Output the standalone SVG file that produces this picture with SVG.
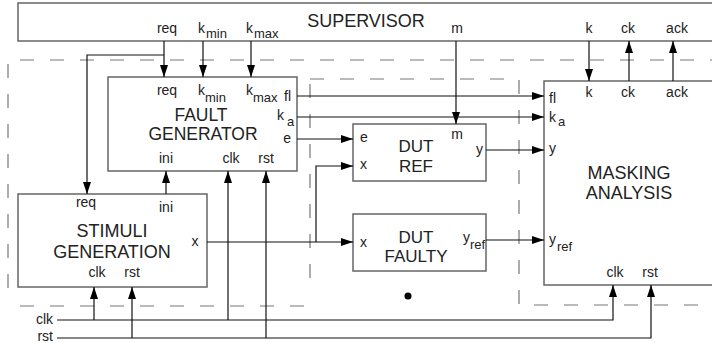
<svg xmlns="http://www.w3.org/2000/svg" width="712" height="343" viewBox="0 0 712 343">
<defs>
<marker id="ah" markerUnits="userSpaceOnUse" markerWidth="12" markerHeight="8" refX="12" refY="4" orient="auto"><path d="M0,0 L12,4 L0,8 z" fill="#000"/></marker>
</defs>
<style>
.box{fill:#fff;stroke:#666;stroke-width:1.5}
.w{fill:none;stroke:#111;stroke-width:1.2}
.a{marker-end:url(#ah)}
.d{fill:none;stroke:#777;stroke-width:1.2;stroke-dasharray:14 16}
text{font-family:"Liberation Sans",Arial,sans-serif;fill:#222}
.t{font-size:18px;text-anchor:middle}
.l{font-size:14px}
.s{font-size:13px}
.m{text-anchor:middle}
.e{text-anchor:end}
</style>
<rect width="712" height="343" fill="#fff"/>
<g id="regions">
<path class="d" d="M20,60 H712"/>
<path class="d" d="M8,64 V304"/>
<path class="d" d="M20,306 H312"/>
<path class="d" d="M310,79 H508"/>
<path class="d" d="M310,84 V292"/>
<path class="d" d="M519,80 V305 H712"/>
</g>
<g id="supervisor">
<rect class="box" x="18" y="3" width="700" height="38"/>
<text class="t" x="366" y="27">SUPERVISOR</text>
<text class="l m" x="167" y="33">req</text>
<text class="l" x="198" y="33">k</text><text class="s" x="206" y="38">min</text>
<text class="l" x="246" y="33">k</text><text class="s" x="254" y="38">max</text>
<text class="l m" x="457" y="33">m</text>
<text class="l m" x="589" y="33">k</text>
<text class="l m" x="628" y="33">ck</text>
<text class="l m" x="677" y="33">ack</text>
</g>
<g id="fault-generator">
<rect class="box" x="108" y="77" width="189" height="94"/>
<text class="t" x="201" y="121" style="font-size:17.5px">FAULT</text>
<text class="t" x="203" y="140" style="font-size:17.5px">GENERATOR</text>
<text class="l m" x="167" y="95">req</text>
<text class="l" x="198" y="95">k</text><text class="s" x="205" y="102">min</text>
<text class="l" x="246" y="95">k</text><text class="s" x="253" y="102">max</text>
<text class="l e" x="291" y="101">fl</text>
<text class="l" x="277" y="120">k</text><text class="s" x="287" y="126">a</text>
<text class="l e" x="291" y="143">e</text>
<text class="l m" x="166" y="163">ini</text>
<text class="l m" x="231" y="163">clk</text>
<text class="l m" x="266" y="163">rst</text>
</g>
<g id="stimuli-generation">
<rect class="box" x="18" y="194" width="189" height="93"/>
<text class="t" x="112" y="237">STIMULI</text>
<text class="t" x="112" y="258">GENERATION</text>
<text class="l m" x="86" y="207">req</text>
<text class="l m" x="166" y="212">ini</text>
<text class="l m" x="195" y="246">x</text>
<text class="l m" x="97" y="277">clk</text>
<text class="l m" x="132" y="277">rst</text>
</g>
<g id="dut-ref">
<rect class="box" x="353" y="124" width="133" height="57"/>
<text class="t" x="416" y="152" style="font-size:17px">DUT</text>
<text class="t" x="416" y="172" style="font-size:17px">REF</text>
<text class="l" x="360" y="142">e</text>
<text class="l" x="360" y="169">x</text>
<text class="l m" x="457" y="139">m</text>
<text class="l e" x="483" y="154">y</text>
</g>
<g id="dut-faulty">
<rect class="box" x="353" y="214" width="133" height="57"/>
<text class="t" x="416" y="243" style="font-size:17px">DUT</text>
<text class="t" x="416" y="262" style="font-size:17px">FAULTY</text>
<text class="l" x="360" y="247">x</text>
<text class="l" x="463" y="242">y</text><text class="s" x="470" y="249">ref</text>
</g>
<g id="masking-analysis">
<rect class="box" x="544" y="81" width="180" height="204"/>
<text class="t" x="629" y="179">MASKING</text>
<text class="t" x="629" y="199">ANALYSIS</text>
<text class="l m" x="589" y="97">k</text>
<text class="l m" x="628" y="97">ck</text>
<text class="l m" x="677" y="97">ack</text>
<text class="l" x="549" y="103">fl</text>
<text class="l" x="549" y="122">k</text><text class="s" x="558" y="126">a</text>
<text class="l" x="549" y="153">y</text>
<text class="l" x="549" y="244">y</text><text class="s" x="557" y="251">ref</text>
<text class="l m" x="615" y="277">clk</text>
<text class="l m" x="650" y="277">rst</text>
</g>
<g id="connectors">
<path class="w a" d="M164,41 V77"/>
<path class="w a" d="M164,55 H87 V194"/>
<path class="w a" d="M203,41 V77"/>
<path class="w a" d="M251,41 V77"/>
<path class="w a" d="M456,41 V124"/>
<path class="w a" d="M589,41 V81"/>
<path class="w a" d="M629,81 V41"/>
<path class="w a" d="M673,81 V41"/>
<path class="w a" d="M166,194 V171"/>
<path class="w a" d="M297,96 H544"/>
<path class="w a" d="M297,117 H544"/>
<path class="w a" d="M297,139 H353"/>
<path class="w a" d="M486,150 H544"/>
<path class="w a" d="M486,240 H544"/>
<path class="w a" d="M207,242 H353"/>
<path class="w a" d="M316,242 V166 H353"/>
<path class="w a" d="M57,320 H613 V285"/>
<path class="w a" d="M94,320 V287"/>
<path class="w a" d="M228,320 V171"/>
<path class="w a" d="M57,338 H651 V285"/>
<path class="w a" d="M132,338 V287"/>
<path class="w a" d="M266,338 V171"/>
</g>
<g id="bus-labels">
<text class="l e" x="53" y="324">clk</text>
<text class="l e" x="53" y="341">rst</text>
</g>
<circle cx="408" cy="296" r="3.5" fill="#000"/>
</svg>
